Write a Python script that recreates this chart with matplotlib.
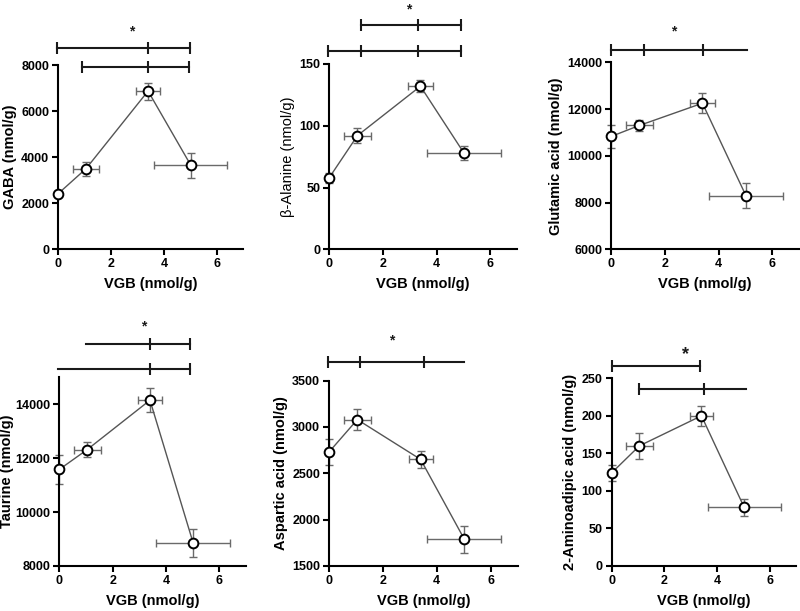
import matplotlib
matplotlib.use("Agg")
import matplotlib.pyplot as plt

plt.rcParams['font.family'] = ['Liberation Sans', 'DejaVu Sans']

# ---- data ----
vgb = [0.0, 1.05, 3.4, 5.02]
vgb_err = [0.0, 0.5, 0.45, 1.38]

gaba = [2420, 3500, 6870, 3650]
gaba_err = [100, 300, 370, 550]

balanine = [58, 92, 132, 78]
balanine_err = [4, 6, 5, 6]

glutamic = [10830, 11300, 12250, 8300]
glutamic_err = [480, 250, 420, 520]

taurine = [11580, 12320, 14150, 8850]
taurine_err = [540, 270, 440, 530]

aspartic = [2730, 3080, 2650, 1790]
aspartic_err = [145, 115, 90, 145]

aminoadipic = [124, 160, 200, 78]
aminoadipic_err = [11, 17, 13, 11]

ylabels = ["GABA (nmol/g)", "\u03b2-Alanine (nmol/g)", "Glutamic acid (nmol/g)",
           "Taurine (nmol/g)", "Aspartic acid (nmol/g)", "2-Aminoadipic acid (nmol/g)"]
xlabel = "VGB (nmol/g)"
x_ticks = [0, 2, 4, 6]

y_ticks = [
    [0, 2000, 4000, 6000, 8000],
    [0, 50, 100, 150],
    [6000, 8000, 10000, 12000, 14000],
    [8000, 10000, 12000, 14000],
    [1500, 2000, 2500, 3000, 3500],
    [0, 50, 100, 150, 200, 250],
]
y_lims = [(0, 8000), (0, 150), (6000, 14000), (8000, 15000), (1500, 3500), (0, 250)]

# significance bars: (y, x_start, x_end, tick x positions)
sig_bars = [
    [(8750, -0.05, 4.98, [-0.05, 3.4, 4.98]), (7900, 0.88, 4.96, [0.88, 3.4, 4.96])],
    [(181.6, 1.17, 4.91, [1.17, 3.3, 4.91]), (160.5, -0.03, 4.93, [-0.03, 1.17, 3.3, 4.93])],
    [(14527, 0.0, 5.06, [0.0, 1.23, 3.41])],
    [(16246, 0.99, 4.9, [3.4, 4.9]), (15316, -0.04, 4.9, [3.4, 4.9])],
    [(3702, -0.03, 5.02, [-0.03, 1.15, 3.51])],
    [(266.4, 0.0, 3.34, [0.0, 3.34]), (236.2, 1.03, 5.1, [1.03, 3.5])],
]
# stars: (x, y, fontsize)
stars = [(2.77, 9450, 10), (2.98, 194, 10), (2.31, 15300, 10),
         (3.17, 16900, 10), (2.33, 3930, 10), (2.8, 281, 13)]

series = [(gaba, gaba_err), (balanine, balanine_err), (glutamic, glutamic_err),
          (taurine, taurine_err), (aspartic, aspartic_err), (aminoadipic, aminoadipic_err)]

positions = [
    [0.0729, 0.592, 0.2309, 0.3016],
    [0.4116, 0.592, 0.2346, 0.3033],
    [0.7641, 0.592, 0.2346, 0.3060],
    [0.0741, 0.0737, 0.2334, 0.3088],
    [0.4113, 0.0737, 0.2357, 0.3033],
    [0.7646, 0.0737, 0.2310, 0.3072],
]

fig = plt.figure(figsize=(8.0, 6.11), dpi=100)

for i in range(6):
    ax = fig.add_axes(positions[i])
    vals, errs = series[i]
    ax.errorbar(vgb, vals, yerr=errs, xerr=vgb_err, fmt='none', ecolor='#6a6a6a',
                elinewidth=1.0, capsize=3, capthick=1.0, clip_on=False, zorder=2)
    ax.plot(vgb, vals, color='#555555', lw=1.0, zorder=3, clip_on=False)
    ax.plot(vgb, vals, 'o', ms=7, mfc='white', mec='black', mew=1.4, zorder=4, clip_on=False)

    ax.set_xlim(0, 7)
    ax.set_ylim(*y_lims[i])
    ax.set_xticks(x_ticks)
    ax.set_yticks(y_ticks[i])
    for s in ['top', 'right']:
        ax.spines[s].set_visible(False)
    for s in ['left', 'bottom']:
        ax.spines[s].set_linewidth(1.5)
    ax.tick_params(axis='both', direction='out', length=4, width=1.5, labelsize=9, pad=2.5)
    for lab in ax.get_xticklabels() + ax.get_yticklabels():
        lab.set_fontweight('bold')
    ax.set_xlabel(xlabel, fontsize=10.5, fontweight='bold', labelpad=5)
    weight = 'normal' if i == 1 else 'bold'
    ax.set_ylabel(ylabels[i], fontsize=10.5, fontweight=weight, labelpad=3)
    if i == 3:
        ax.yaxis.set_label_coords(-0.245, 0.5)

    for (yb, xs, xe, tks) in sig_bars[i]:
        ax.plot([xs, xe], [yb, yb], color='#1a1a1a', lw=1.5, clip_on=False, zorder=5)
        ax.plot(tks, [yb] * len(tks), linestyle='none', marker='|', ms=9, mew=1.5,
                color='#1a1a1a', clip_on=False, zorder=5)
    sx, sy, sfs = stars[i]
    ax.text(sx, sy, '*', ha='center', va='center', fontsize=sfs, fontweight='bold',
            color='#1a1a1a', clip_on=False)

fig.savefig('out.png', dpi=100)
